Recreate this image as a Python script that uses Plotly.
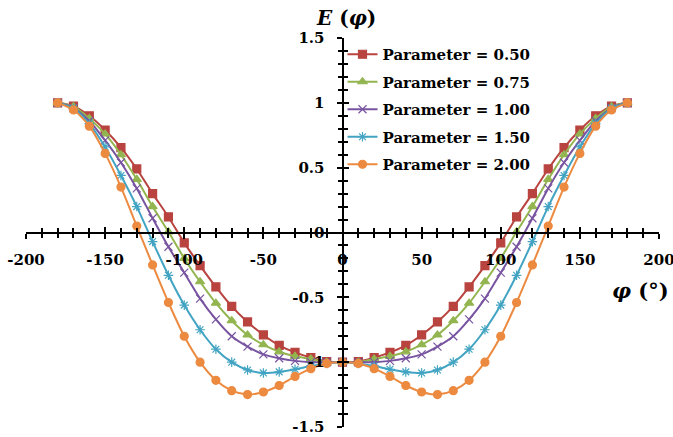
import plotly.graph_objects as go

phi = [-180, -170, -160, -150, -140, -130, -120, -110, -100, -90, -80, -70, -60, -50, -40, -30, -20, -10,
       0, 10, 20, 30, 40, 50, 60, 70, 80, 90, 100, 110, 120, 130, 140, 150, 160, 170, 180]

e_050 = [1.0, 0.975, 0.90, 0.79, 0.655, 0.49, 0.30, 0.12, -0.08, -0.255, -0.42, -0.57, -0.69, -0.79, -0.87, -0.925, -0.965, -0.995,
         -1.0, -0.995, -0.965, -0.925, -0.87, -0.79, -0.69, -0.57, -0.42, -0.255, -0.08, 0.12, 0.30, 0.49, 0.655, 0.79, 0.90, 0.975, 1.0]
e_075 = [1.0, 0.97, 0.88, 0.76, 0.60, 0.41, 0.20, 0.005, -0.20, -0.38, -0.545, -0.68, -0.79, -0.865, -0.92, -0.955, -0.975, -1.0,
         -1.0, -1.0, -0.975, -0.955, -0.92, -0.865, -0.79, -0.68, -0.545, -0.38, -0.20, 0.005, 0.20, 0.41, 0.60, 0.76, 0.88, 0.97, 1.0]
e_100 = [1.0, 0.96, 0.86, 0.71, 0.54, 0.34, 0.11, -0.11, -0.31, -0.51, -0.67, -0.80, -0.88, -0.94, -0.97, -0.99, -1.0, -1.0,
         -1.0, -1.0, -1.0, -0.99, -0.97, -0.94, -0.88, -0.80, -0.67, -0.51, -0.31, -0.11, 0.11, 0.34, 0.54, 0.71, 0.86, 0.96, 1.0]
e_150 = [1.0, 0.955, 0.84, 0.66, 0.44, 0.20, -0.07, -0.33, -0.56, -0.75, -0.90, -1.0, -1.06, -1.083, -1.075, -1.055, -1.03, -1.01,
         -1.0, -1.01, -1.03, -1.055, -1.075, -1.083, -1.06, -1.0, -0.90, -0.75, -0.56, -0.33, -0.07, 0.20, 0.44, 0.66, 0.84, 0.955, 1.0]
e_200 = [1.0, 0.945, 0.82, 0.61, 0.35, 0.05, -0.25, -0.54, -0.80, -1.0, -1.14, -1.22, -1.25, -1.23, -1.18, -1.11, -1.05, -1.01,
         -1.0, -1.01, -1.05, -1.11, -1.18, -1.23, -1.25, -1.22, -1.14, -1.0, -0.80, -0.54, -0.25, 0.05, 0.35, 0.61, 0.82, 0.945, 1.0]

series_names = ["Parameter = 0.50", "Parameter = 0.75", "Parameter = 1.00", "Parameter = 1.50", "Parameter = 2.00"]
series_values = [e_050, e_075, e_100, e_150, e_200]
colors = ["#B8433F", "#93B550", "#7854A0", "#42A4C2", "#EC8A40"]
symbols = ["square", "triangle-up", "x-thin-open", "asterisk-open", "circle"]
msizes = [8, 8, 8, 8, 8]

x_ticks = [-200, -150, -100, -50, 0, 50, 100, 150, 200]
x_ticktext = ["-200", "-150", "-100", "-50", "0", "50", "100", "150", "200"]
y_ticks = [-1.5, -1, -0.5, 0, 0.5, 1, 1.5]
y_ticktext = ["-1.5", "-1", "-0.5", "0", "0.5", "1", "1.5"]

FONT = "DejaVu Serif"

fig = go.Figure()
for i, (name, vals, col, sym, ms) in enumerate(zip(series_names, series_values, colors, symbols, msizes)):
    fig.add_trace(go.Scatter(
        x=phi, y=vals, name=name, mode="lines+markers", legendgroup="g%d" % i,
        line=dict(color=col, width=2, shape="spline", smoothing=0.8),
        marker=dict(symbol=sym, size=ms, color=col, line=dict(color=col, width=1.2)),
    ))

# dummy trace for overlay axes (inside ticks -> crossing tick marks)
fig.add_trace(go.Scatter(x=[], y=[], xaxis="x2", yaxis="y2", showlegend=False, hoverinfo="skip"))

axis_common = dict(showgrid=False, zeroline=False, showline=True, linecolor="black", linewidth=2,
                   tickcolor="black", tickwidth=2, ticklen=5, anchor="free", position=0.5,
                   automargin=False, ticklabeloverflow="allow")

fig.update_layout(
    width=673, height=437,
    margin=dict(l=26, r=14, t=38, b=10),
    paper_bgcolor="white", plot_bgcolor="white",
    font=dict(family=FONT, size=15, color="black", weight="bold"),
    showlegend=True,
    legend=dict(x=0.5, y=1.0, xanchor="left", yanchor="top", bgcolor="rgba(0,0,0,0)",
                font=dict(family=FONT, size=15, color="black", weight="bold"),
                itemwidth=30, tracegroupgap=5),
    xaxis=dict(range=[-200, 200], tickvals=x_ticks, ticktext=x_ticktext, ticks="outside", side="bottom",
               ticklabelstandoff=8,
               minor=dict(dtick=10, ticks="outside", ticklen=4, tickcolor="black", tickwidth=1.5),
               **axis_common),
    yaxis=dict(range=[-1.5, 1.5], tickvals=y_ticks, ticktext=y_ticktext, ticks="outside", side="left",
               ticklabelstandoff=9,
               minor=dict(dtick=0.1, ticks="outside", ticklen=4, tickcolor="black", tickwidth=1.5),
               **axis_common),
    xaxis2=dict(range=[-200, 200], tickvals=x_ticks, ticks="inside", side="bottom", overlaying="x",
                showticklabels=False,
                minor=dict(dtick=10, ticks="inside", ticklen=4, tickcolor="black", tickwidth=1.5),
                **axis_common),
    yaxis2=dict(range=[-1.5, 1.5], tickvals=y_ticks, ticks="inside", side="left", overlaying="y",
                showticklabels=False,
                minor=dict(dtick=0.1, ticks="inside", ticklen=4, tickcolor="black", tickwidth=1.5),
                **axis_common),
    annotations=[
        dict(text="<i>E</i> (<i>φ</i>)", xref="paper", yref="paper", x=0.5, y=1.0, xanchor="center",
             yanchor="middle", yshift=20, xshift=3, showarrow=False,
             font=dict(family=FONT, size=20, color="black", weight="bold")),
        dict(text="<i>φ</i> (°)", xref="paper", yref="paper", x=1.0, y=0.5, xanchor="right",
             yanchor="middle", yshift=-58, xshift=12, showarrow=False,
             font=dict(family=FONT, size=21, color="black", weight="bold")),
    ],
)

fig.write_html("out.html", config={"displayModeBar": False},
               post_script="document.body.style.margin='0';document.body.style.padding='0';")
